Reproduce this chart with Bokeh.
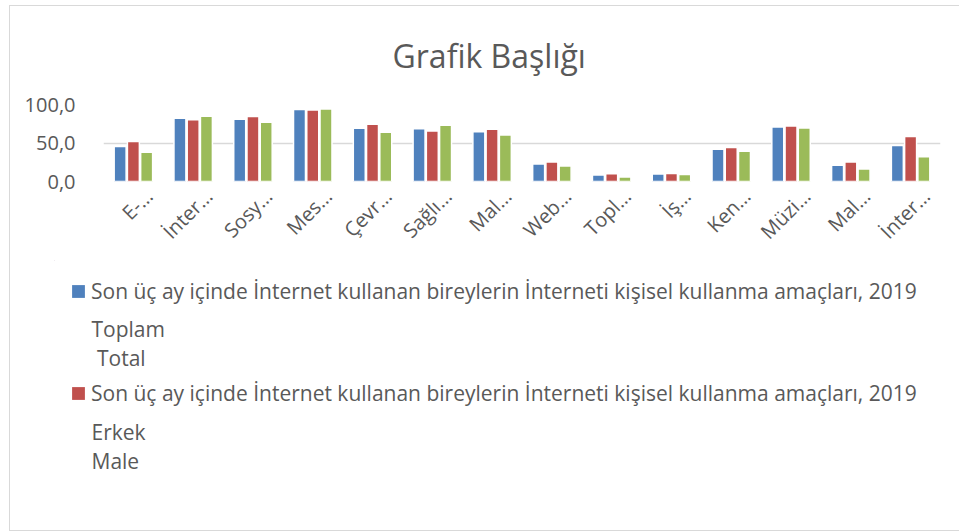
import numpy as np
from bokeh.plotting import figure
from bokeh.models import (ColumnDataSource, Range1d, FixedTicker, Legend, LegendItem, Title)
from bokeh.core.properties import value
from bokeh.transform import dodge
from bokeh.embed import file_html
from bokeh.resources import INLINE

categories = ["E-…", "İnter…", "Sosy…", "Mes…", "Çevr…", "Sağlı…", "Mal…",
              "Web…", "Topl…", "İş…", "Ken…", "Müzi…", "Mal…", "İnter…"]
total = [45.4, 82.1, 80.8, 93.4, 69.0, 68.6, 64.6, 22.7, 8.3, 9.6, 41.9, 70.7, 21.0, 46.7]
male = [52.0, 80.3, 84.3, 93.0, 74.2, 65.5, 67.7, 25.3, 10.0, 10.5, 44.1, 72.0, 25.3, 58.5]
female = [38.0, 84.7, 76.9, 94.3, 63.8, 72.9, 60.3, 20.1, 5.7, 9.2, 39.3, 69.4, 16.2, 32.3]
y_ticks = [0, 50, 100]
y_tick_labels = ["0,0", "50,0", "100,0"]
series_title = "Son üç ay içinde İnternet kullanan bireylerin İnterneti kişisel kullanma amaçları, 2019"
total_sub = ["Toplam", "\u00a0Total"]
male_sub = ["Erkek", "Male"]
title_text = "Grafik Başlığı"

FONT = "Open Sans"
GREY = "#595959"
BORDER = "1px solid #d9d9d9"
BLUE, RED, GREEN = "#4F81BD", "#C0504D", "#9BBB59"
LABEL_SHIFT = 0.26   # rotated labels end a little right of the category centre (Excel style)

xs = [i + 0.5 for i in range(len(categories))]
src = ColumnDataSource(dict(x=xs, total=total, male=male, female=female))

# ---------------- main chart ----------------
p = figure(width=950, height=255, x_range=Range1d(0, len(categories)), y_range=Range1d(0, 100),
           output_backend="svg", toolbar_location=None,
           min_border_left=93, min_border_right=20, min_border_top=98, min_border_bottom=80)
p.styles = {"border-left": BORDER, "border-top": BORDER, "margin-left": "9px", "margin-top": "5px"}

p.add_layout(Title(text=title_text, align="left", offset=289, vertical_align="top",
                   text_font=FONT, text_font_size="32px",
                   text_font_style="normal", text_color=GREY, standoff=52), "above")

w = 0.2
r1 = p.vbar(x=dodge("x", -0.2216, range=p.x_range), top="total", width=w, source=src,
            fill_color=BLUE, line_color="white", line_width=1.5)
r2 = p.vbar(x=dodge("x", 0.0, range=p.x_range), top="male", width=w, source=src,
            fill_color=RED, line_color="white", line_width=1.5)
r3 = p.vbar(x=dodge("x", 0.2216, range=p.x_range), top="female", width=w, source=src,
            fill_color=GREEN, line_color="white", line_width=1.5)

p.xgrid.visible = False
p.ygrid.ticker = FixedTicker(ticks=y_ticks)
p.ygrid.grid_line_color = "#d9d9d9"
p.ygrid.grid_line_width = 1.5
p.outline_line_color = None

p.yaxis.ticker = FixedTicker(ticks=y_ticks)
p.yaxis.major_label_overrides = {t: l for t, l in zip(y_ticks, y_tick_labels)}
p.yaxis.axis_line_color = None
p.yaxis.major_tick_line_color = None
p.yaxis.minor_tick_line_color = None
p.yaxis.major_label_text_font = FONT
p.yaxis.major_label_text_font_size = "20px"
p.yaxis.major_label_text_color = GREY
p.yaxis.major_label_standoff = 22

label_pos = [x + LABEL_SHIFT for x in xs]
p.xaxis.ticker = FixedTicker(ticks=label_pos)
p.xaxis.major_label_overrides = {x: c for x, c in zip(label_pos, categories)}
p.xaxis.major_label_orientation = np.pi / 4
p.xaxis.axis_line_color = None
p.xaxis.major_tick_line_color = None
p.xaxis.minor_tick_line_color = None
p.xaxis.major_label_text_font = FONT
p.xaxis.major_label_text_font_size = "20px"
p.xaxis.major_label_text_color = GREY
p.xaxis.major_label_standoff = 5

# ---------------- legend panel (page-pixel coordinates) ----------------
LEFT = 44
TOP, BOTTOM = 260, 530
lg = figure(width=950, height=271, x_range=Range1d(10 + LEFT, 960), y_range=Range1d(BOTTOM, TOP),
            output_backend="svg", toolbar_location=None,
            min_border_left=LEFT, min_border_right=0, min_border_top=0, min_border_bottom=0)
lg.styles = {"border-left": BORDER, "border-bottom": BORDER, "margin-left": "9px"}
lg.axis.visible = False
lg.grid.visible = False
lg.outline_line_color = None

dummy = ColumnDataSource(dict(x=[0], top=[0]))
d1 = lg.vbar(x="x", top="top", width=1, source=dummy, fill_color=BLUE, line_color=None)
d2 = lg.vbar(x="x", top="top", width=1, source=dummy, fill_color=RED, line_color=None)

legend = Legend(items=[LegendItem(label=series_title, renderers=[d1]),
                       LegendItem(label=series_title, renderers=[d2])],
                orientation="vertical", location="top_left",
                label_text_font=FONT, label_text_font_size="21px", label_text_color=GREY,
                glyph_width=16, glyph_height=16, label_standoff=5, label_height=30,
                spacing=72, border_line_color=None, background_fill_alpha=0,
                padding=0, margin=16)
lg.add_layout(legend, "center")

sub_src = ColumnDataSource(dict(
    x=[91, 91, 91, 91],
    y=[328.5, 357, 431, 460],
    t=total_sub + male_sub))
lg.text(x="x", y="y", text="t", source=sub_src, text_font=value(FONT), text_font_size="21px",
        text_color=GREY, text_baseline="alphabetic", text_align="left")

open("out.html", "w").write(file_html([p, lg], INLINE))
